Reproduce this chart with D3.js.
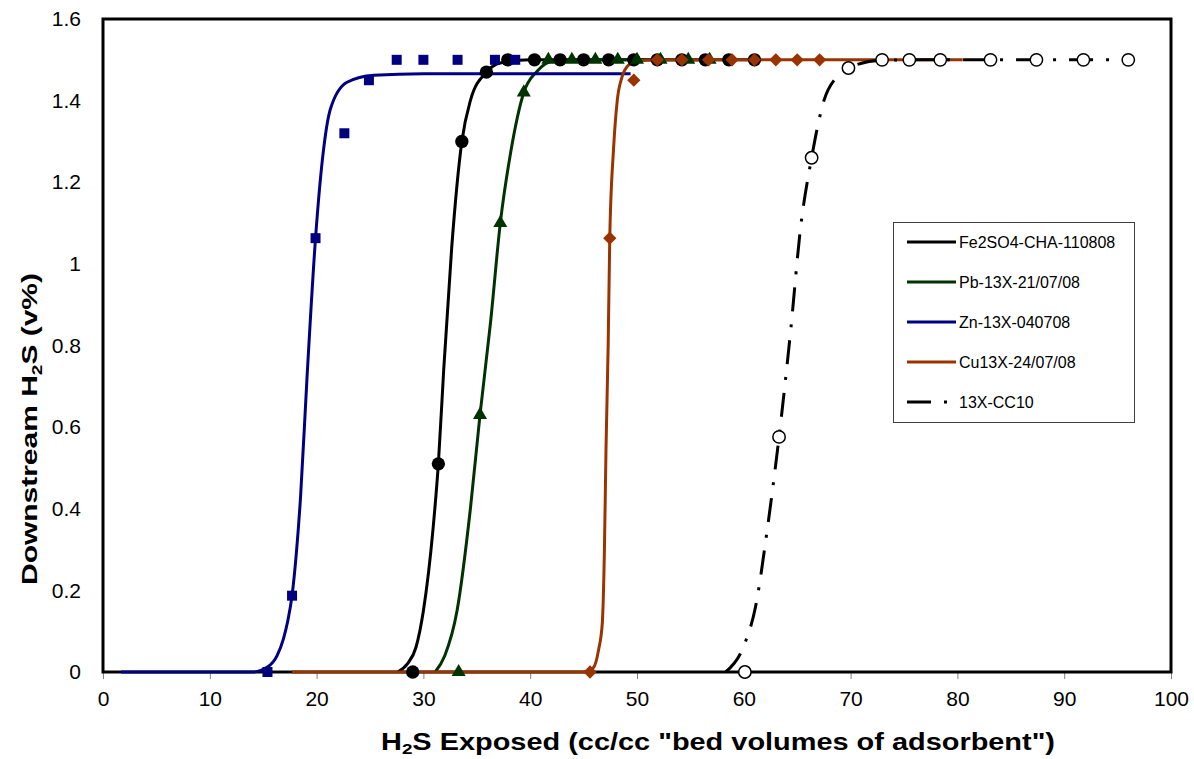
<!DOCTYPE html>
<meta charset="utf-8">
<style>
body { margin: 0; background: #fff; }
text { font-family: "Liberation Sans", Arial, sans-serif; fill: #000; }
.axis text { font-size: 21px; }
.axis .tick line { stroke: #808080; }
.legend text { font-size: 16px; }
.title { font-weight: bold; }
</style>
<svg width="1194" height="759"></svg>
<script src="https://d3js.org/d3.v7.min.js"></script>
<script>

// measured points (x = H2S exposed, y = downstream H2S)
var feX = [29.0, 31.4, 33.6, 35.9, 37.9, 40.4, 42.8, 45.0, 47.35, 49.7, 51.9, 54.2, 56.4, 58.6, 61.0];
var feY = [0, 0.51, 1.30, 1.47, 1.5, 1.5, 1.5, 1.5, 1.5, 1.5, 1.5, 1.5, 1.5, 1.5, 1.5];

var pbX = [33.3, 35.3, 37.2, 39.4, 41.7, 43.9, 46.1, 48.2, 50.0, 52.2, 54.8, 56.8];
var pbY = [0, 0.63, 1.10, 1.42, 1.5, 1.5, 1.5, 1.5, 1.5, 1.5, 1.5, 1.5];

var znX = [15.4, 17.7, 19.9, 22.6, 24.9, 27.5, 30.0, 33.2, 36.7, 38.6];
var znY = [0, 0.187, 1.063, 1.32, 1.45, 1.5, 1.5, 1.5, 1.5, 1.5];

var cuX = [45.6, 47.45, 49.7, 51.9, 54.2, 56.7, 58.9, 61.0, 63.0, 65.0, 67.1];
var cuY = [0, 1.063, 1.45, 1.5, 1.5, 1.5, 1.5, 1.5, 1.5, 1.5, 1.5];

var ccX = [60.1, 63.3, 66.35, 69.8, 72.95, 75.5, 78.4, 83.1, 87.4, 91.8, 96.0];
var ccY = [0, 0.576, 1.26, 1.48, 1.5, 1.5, 1.5, 1.5, 1.5, 1.5, 1.5];

// fitted curves
var feFitX = [27.6, 28.5, 29.3, 30.0, 30.9, 31.4, 31.9, 32.65, 33.6, 34.4, 35.9, 37.2, 40.0, 50.0, 61.0];
var feFitY = [0, 0.02, 0.06, 0.15, 0.35, 0.51, 0.74, 1.04, 1.30, 1.40, 1.47, 1.492, 1.5, 1.5, 1.5];

var pbFitX = [31.1, 32.0, 33.15, 34.4, 35.3, 36.3, 37.2, 38.15, 39.4, 40.65, 42.2, 45.0, 56.8];
var pbFitY = [0, 0.04, 0.15, 0.40, 0.63, 0.86, 1.10, 1.27, 1.42, 1.472, 1.497, 1.5, 1.5];

var znFitX = [1.7, 14.0, 15.4, 16.3, 16.9, 17.3, 17.7, 18.1, 18.5, 19.1, 19.9, 20.65, 21.3, 22.85, 25.35, 30.0, 49.4];
var znFitY = [0, 0, 0.012, 0.04, 0.082, 0.125, 0.187, 0.29, 0.43, 0.72, 1.063, 1.28, 1.38, 1.445, 1.462, 1.466, 1.466];

var cuFitX = [17.7, 45.0, 45.9, 46.4, 46.75, 46.95, 47.1, 47.3, 47.45, 47.8, 48.15, 48.6, 49.2, 50.0, 52.0, 80.5];
var cuFitY = [0, 0, 0.01, 0.054, 0.12, 0.30, 0.55, 0.80, 1.063, 1.28, 1.40, 1.458, 1.487, 1.497, 1.5, 1.5];

var ccFitX = [58.3, 60.0, 61.1, 62.2, 63.3, 64.4, 65.3, 66.35, 67.5, 68.7, 69.8, 72.95, 76.0, 96.0];
var ccFitY = [0, 0.064, 0.16, 0.35, 0.576, 0.84, 1.085, 1.26, 1.40, 1.458, 1.48, 1.499, 1.5, 1.5];

var names = ["Fe2SO4-CHA-110808", "Pb-13X-21/07/08", "Zn-13X-040708", "Cu13X-24/07/08", "13X-CC10"];
var xTicks = [0, 10, 20, 30, 40, 50, 60, 70, 80, 90, 100];
var yTicks = [0, 0.2, 0.4, 0.6, 0.8, 1, 1.2, 1.4, 1.6];

function zip(a, b) { return a.map(function(v, i) { return [v, b[i]]; }); }

var series = [
  {name: names[0], pts: zip(feX, feY), fit: zip(feFitX, feFitY), color: "#000000", mark: "circle"},
  {name: names[1], pts: zip(pbX, pbY), fit: zip(pbFitX, pbFitY), color: "#003300", mark: "triangle"},
  {name: names[2], pts: zip(znX, znY), fit: zip(znFitX, znFitY), color: "#000080", mark: "square"},
  {name: names[3], pts: zip(cuX, cuY), fit: zip(cuFitX, cuFitY), color: "#993300", mark: "diamond"},
  {name: names[4], pts: zip(ccX, ccY), fit: zip(ccFitX, ccFitY), color: "#000000", mark: "open", dash: "24,13,3,13"}
];

var svg = d3.select("svg");

var x = d3.scaleLinear().domain([0, 100]).range([103, 1171]);
var y = d3.scaleLinear().domain([0, 1.6]).range([672, 19]);

// x axis ticks + labels
svg.append("g")
    .attr("class", "axis")
    .attr("transform", "translate(0," + y(0) + ")")
    .call(d3.axisBottom(x).tickValues(xTicks).tickSize(7).tickPadding(12).tickFormat(d3.format("d")))
    .call(function(g) { g.select(".domain").remove(); });

svg.append("g")
    .attr("class", "axis")
    .attr("transform", "translate(" + x(0) + ",0)")
    .call(d3.axisLeft(y).tickValues(yTicks).tickSize(0).tickPadding(22).tickFormat(function(d) { return d3.format("")(+d.toFixed(1)); }))
    .call(function(g) { g.select(".domain").remove(); });

// plot frame
svg.append("rect")
    .attr("x", x(0))
    .attr("y", y(1.6))
    .attr("width", x(100) - x(0))
    .attr("height", y(0) - y(1.6))
    .attr("fill", "none")
    .attr("stroke", "#000")
    .attr("stroke-width", 3);

var line = d3.line()
    .x(function(d) { return x(d[0]); })
    .y(function(d) { return y(d[1]); })
    .curve(d3.curveMonotoneX);

svg.append("g").selectAll("path")
  .data(series)
  .enter().append("path")
    .attr("d", function(s) { return line(s.fit); })
    .attr("fill", "none")
    .attr("stroke", function(s) { return s.color; })
    .attr("stroke-width", 3)
    .attr("stroke-dasharray", function(s) { return s.dash || null; });

var sym = {
  circle: d3.symbol().type(d3.symbolCircle).size(140),
  triangle: d3.symbol().type(d3.symbolTriangle).size(85),
  square: d3.symbol().type(d3.symbolSquare).size(100),
  diamond: d3.symbol().type(d3.symbolSquare).size(88),
  open: d3.symbol().type(d3.symbolCircle).size(120)
};

series.forEach(function(s) {
  svg.append("g").selectAll("path")
    .data(s.pts)
    .enter().append("path")
      .attr("d", sym[s.mark]())
      .attr("transform", function(d) {
        return "translate(" + x(d[0]) + "," + y(d[1]) + ")" + (s.mark === "diamond" ? " rotate(45)" : "");
      })
      .attr("fill", s.mark === "open" ? "#fff" : s.color)
      .attr("stroke", s.mark === "open" ? "#000" : "none")
      .attr("stroke-width", 1.5);
});

// legend
var legend = svg.append("g").attr("class", "legend");
legend.append("rect")
    .attr("x", 893.5).attr("y", 222.5)
    .attr("width", 241).attr("height", 200)
    .attr("fill", "#fff")
    .attr("stroke", "#404040")
    .attr("stroke-width", 1);

var item = legend.selectAll("g.item")
  .data(series)
  .enter().append("g")
    .attr("class", "item")
    .attr("transform", function(s, i) { return "translate(0," + (242 + i * 40) + ")"; });

item.append("line")
    .attr("x1", 907).attr("x2", 956)
    .attr("stroke", function(s) { return s.color; })
    .attr("stroke-width", 3)
    .attr("stroke-dasharray", function(s) { return s.dash || null; });

item.append("text")
    .attr("x", 959)
    .attr("dy", "0.35em")
    .text(function(s) { return s.name; });

// axis titles
var xt = svg.append("text")
    .attr("class", "title")
    .attr("x", 381)
    .attr("y", 750)
    .attr("font-size", 23)
    .attr("textLength", 674)
    .attr("lengthAdjust", "spacingAndGlyphs");
xt.append("tspan").text("H");
xt.append("tspan").attr("font-size", 15).attr("dy", 4).text("2");
xt.append("tspan").attr("dy", -4).text("S Exposed (cc/cc \"bed volumes of adsorbent\")");

var yt = svg.append("text")
    .attr("class", "title")
    .attr("transform", "translate(37,429) rotate(-90)")
    .attr("text-anchor", "middle")
    .attr("font-size", 22)
    .attr("textLength", 312)
    .attr("lengthAdjust", "spacingAndGlyphs");
yt.append("tspan").text("Downstream H");
yt.append("tspan").attr("font-size", 14).attr("dy", 5).text("2");
yt.append("tspan").attr("dy", -5).text("S (v%)");

</script>
